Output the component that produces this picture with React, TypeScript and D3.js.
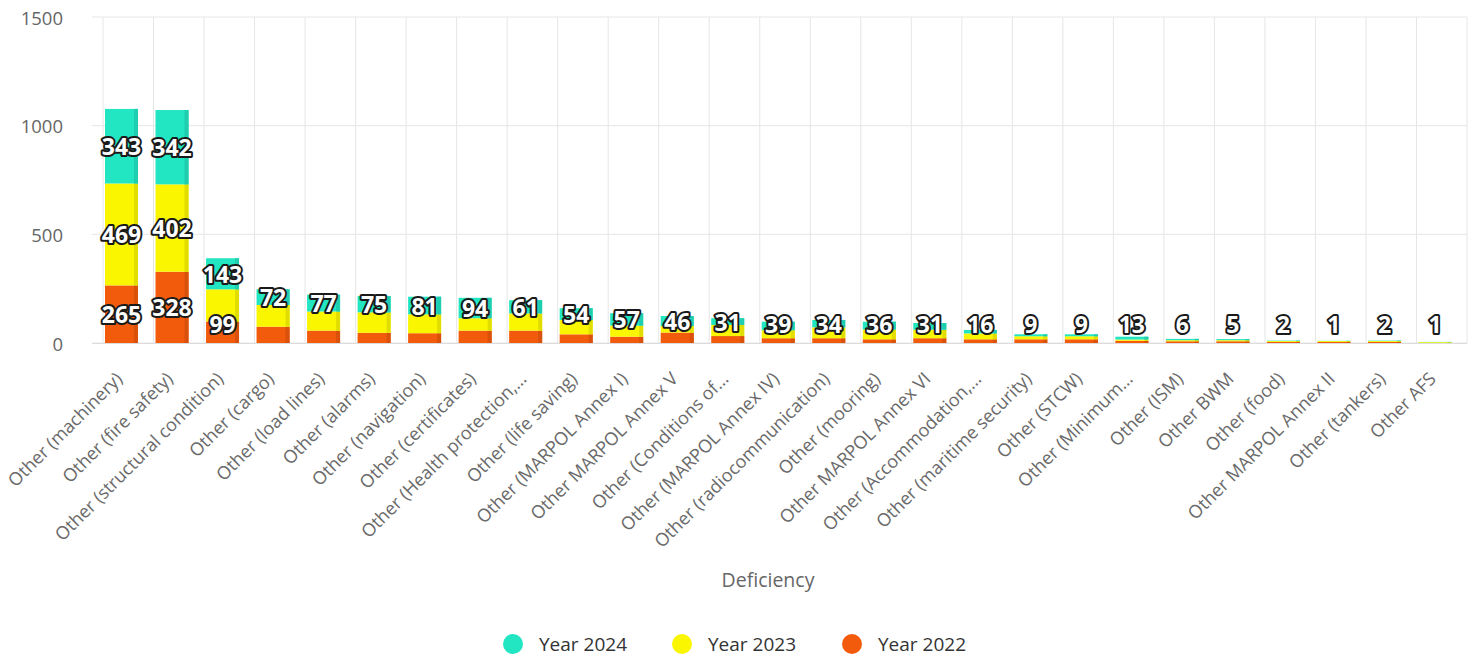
import React from "react";
import * as d3 from "d3";

const categories = [
  "Other (machinery)",
  "Other (fire safety)",
  "Other (structural condition)",
  "Other (cargo)",
  "Other (load lines)",
  "Other (alarms)",
  "Other (navigation)",
  "Other (certificates)",
  "Other (Health protection,…",
  "Other (life saving)",
  "Other (MARPOL Annex I)",
  "Other MARPOL Annex V",
  "Other (Conditions of…",
  "Other (MARPOL Annex IV)",
  "Other (radiocommunication)",
  "Other (mooring)",
  "Other MARPOL Annex VI",
  "Other (Accommodation,…",
  "Other (maritime security)",
  "Other (STCW)",
  "Other (Minimum…",
  "Other (ISM)",
  "Other BWM",
  "Other (food)",
  "Other MARPOL Annex II",
  "Other (tankers)",
  "Other AFS",
];

const year2024 = [343, 342, 143, 72, 77, 75, 81, 94, 61, 54, 57, 46, 31, 39, 34, 36, 31, 16, 9, 9, 13, 6, 5, 2, 1, 2, 1];
const year2023 = [469, 402, 148, 100, 88, 94, 87, 57, 79, 66, 51, 30, 51, 37, 50, 45, 39, 27, 14, 14, 6, 5, 5, 4, 4, 4, 4];
const year2022 = [265, 328, 99, 75, 57, 47, 45, 57, 57, 40, 29, 48, 32, 22, 22, 17, 22, 17, 17, 17, 10, 8, 8, 5, 5, 5, 0];

const seriesNames = ["Year 2024", "Year 2023", "Year 2022"];
const seriesColors = ["#22E5C2", "#FAF600", "#F25A0C"];
const yTicks = [0, 500, 1000, 1500];

const W = 1479;
const H = 661;
const FONT = "'Open Sans', 'Noto Sans', sans-serif";

export default function App() {
  const plotLeft = 103;
  const plotRight = 1467;
  const gridLeft = 92;
  const yTop = 17;
  const yBottom = 343;

  const x = d3.scaleBand<string>().domain(categories).range([plotLeft, plotRight]).paddingInner(0).paddingOuter(0);
  const y = d3.scaleLinear().domain([0, 1500]).range([yBottom, yTop]);

  const barOffset = 2;
  const barW = 33;

  const rows = categories.map((c, i) => ({ cat: c, y2024: year2024[i], y2023: year2023[i], y2022: year2022[i] }));
  const stack = d3.stack<any>().keys(["y2022", "y2023", "y2024"]);
  const stacked = stack(rows);
  const layerFor = [stacked[2], stacked[1], stacked[0]];

  const bars: JSX.Element[] = [];
  const labels: JSX.Element[] = [];

  categories.forEach((c, i) => {
    const bx = (x(c) as number) + barOffset;
    for (let s = 2; s >= 0; s--) {
      const seg = layerFor[s][i];
      const y0 = y(seg[0]);
      const y1 = y(seg[1]);
      const h = y0 - y1;
      if (h <= 0) continue;
      const dark = d3.color(seriesColors[s])!.darker(0.3).toString();
      bars.push(
        <g key={`b-${i}-${s}`}>
          <rect x={bx} y={y1} width={barW} height={h} fill={seriesColors[s]} />
          <rect x={bx + barW - 4} y={y1} width={4} height={h} fill={dark} />
        </g>
      );
    }
    const kept: { y0: number; y1: number }[] = [];
    for (let s = 0; s < 3; s++) {
      const seg = layerFor[s][i];
      const v = seg[1] - seg[0];
      if (v <= 0) continue;
      let cy = (y(seg[0]) + y(seg[1])) / 2;
      cy = Math.min(cy, yBottom - 19);
      const box = { y0: cy - 18, y1: cy + 18 };
      const overlaps = kept.some((k) => !(box.y1 <= k.y0 || box.y0 >= k.y1));
      if (overlaps) continue;
      kept.push(box);
      labels.push(
        <text
          key={`l-${i}-${s}`}
          x={bx + barW / 2}
          y={cy}
          textAnchor="middle"
          dominantBaseline="central"
          fontFamily={FONT}
          fontWeight={700}
          fontSize={23}
          fill="#ffffff"
          stroke="#1a1a1a"
          strokeWidth={4}
          strokeLinejoin="round"
          style={{ paintOrder: "stroke" }}
        >
          {v}
        </text>
      );
    }
  });

  const gridXs = [...categories.map((c) => x(c) as number), plotRight];
  const legendXs = [513, 682, 852];

  return (
    <svg width={W} height={H} style={{ position: "absolute", left: 0, top: 0, background: "#fff" }}>
      {yTicks.map((t) => (
        <line key={`hg-${t}`} x1={gridLeft} x2={plotRight} y1={y(t)} y2={y(t)} stroke="#e6e6e6" strokeWidth={1} />
      ))}
      {gridXs.map((gx, i) => (
        <line key={`vg-${i}`} x1={gx} x2={gx} y1={yTop} y2={yBottom} stroke="#e6e6e6" strokeWidth={1} />
      ))}
      {yTicks.map((t) => (
        <text
          key={`yt-${t}`}
          x={63}
          y={y(t)}
          textAnchor="end"
          dominantBaseline="central"
          fontFamily={FONT}
          fontSize={18.5}
          fill="#666666"
        >
          {t}
        </text>
      ))}
      {bars}
      <line x1={gridLeft} x2={plotRight} y1={yBottom + 0.5} y2={yBottom + 0.5} stroke="#dcdcdc" strokeWidth={1} />
      {labels}
      {categories.map((c) => {
        const cx = (x(c) as number) + barOffset + barW / 2 + 2;
        const cy = 380;
        return (
          <text
            key={`xl-${c}`}
            x={cx}
            y={cy}
            textAnchor="end"
            transform={`rotate(-45, ${cx}, ${cy})`}
            fontFamily={FONT}
            fontSize={18}
            fill="#6a6a6a"
          >
            {c}
          </text>
        );
      })}
      <text x={768} y={587} textAnchor="middle" fontFamily={FONT} fontSize={19.5} fill="#666666">
        Deficiency
      </text>
      {seriesNames.map((n, i) => (
        <g key={`lg-${i}`}>
          <circle cx={legendXs[i]} cy={644} r={10} fill={seriesColors[i]} />
          <text x={legendXs[i] + 26} y={651} fontFamily={FONT} fontSize={19} fill="#333333">
            {n}
          </text>
        </g>
      ))}
    </svg>
  );
}
